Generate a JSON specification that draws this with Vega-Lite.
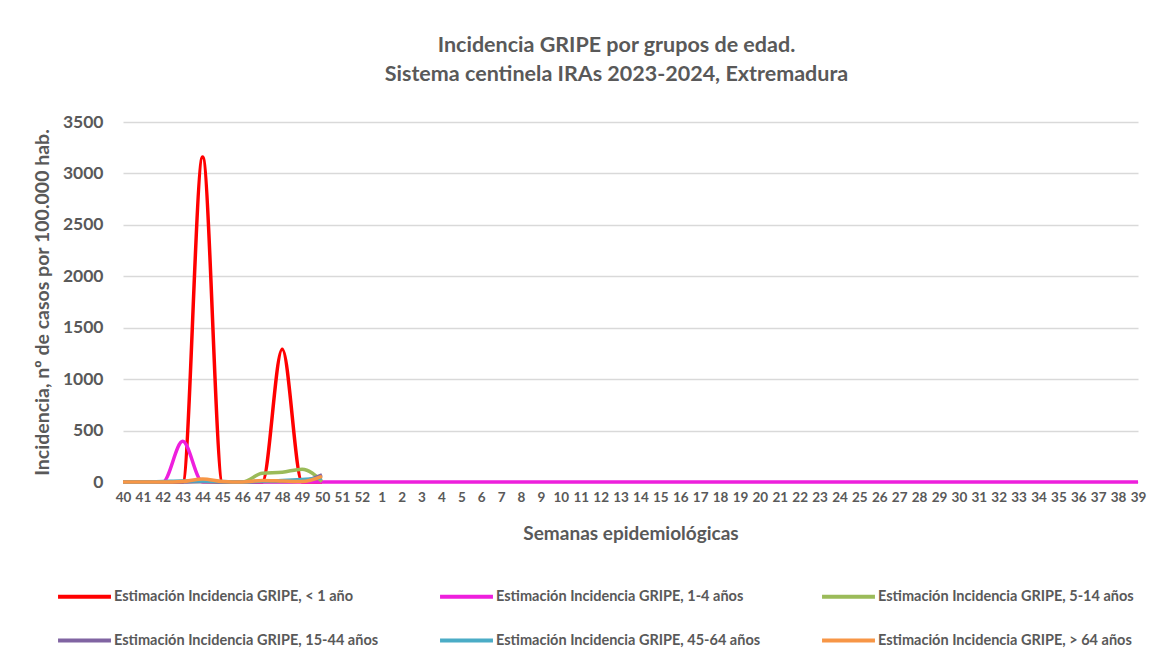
{
  "$schema": "https://vega.github.io/schema/vega-lite/v6.json",
  "width": 1015,
  "height": 360,
  "autosize": {"type": "none"},
  "padding": {"left": 123, "top": 122, "right": 19, "bottom": 183},
  "background": "white",
  "title": {
    "text": ["Incidencia GRIPE por grupos de edad.", "Sistema centinela IRAs 2023-2024, Extremadura"],
    "font": "Lato",
    "fontSize": 21.5,
    "fontWeight": "bold",
    "color": "#595959",
    "lineHeight": 29,
    "anchor": "middle",
    "dx": -14,
    "offset": 28
  },
  "data": {
    "values": [
      {"semana": "40", "< 1 año": 0, "1-4 años": 0, "5-14 años": 0, "15-44 años": 0, "45-64 años": 0, "> 64 años": 0},
      {"semana": "41", "< 1 año": 0, "1-4 años": 0, "5-14 años": 0, "15-44 años": 0, "45-64 años": 0, "> 64 años": 0},
      {"semana": "42", "< 1 año": 0, "1-4 años": 0, "5-14 años": 0, "15-44 años": 0, "45-64 años": 5, "> 64 años": 0},
      {"semana": "43", "< 1 año": 0, "1-4 años": 395, "5-14 años": 5, "15-44 años": 0, "45-64 años": 10, "> 64 años": 5},
      {"semana": "44", "< 1 año": 3160, "1-4 años": 0, "5-14 años": 5, "15-44 años": 5, "45-64 años": 10, "> 64 años": 30},
      {"semana": "45", "< 1 año": 0, "1-4 años": 0, "5-14 años": 0, "15-44 años": 0, "45-64 años": 5, "> 64 años": 5},
      {"semana": "46", "< 1 año": 0, "1-4 años": 0, "5-14 años": 0, "15-44 años": 0, "45-64 años": 0, "> 64 años": 0},
      {"semana": "47", "< 1 año": 0, "1-4 años": 0, "5-14 años": 85, "15-44 años": 5, "45-64 años": 10, "> 64 años": 15},
      {"semana": "48", "< 1 año": 1290, "1-4 años": 0, "5-14 años": 95, "15-44 años": 5, "45-64 años": 15, "> 64 años": 10},
      {"semana": "49", "< 1 año": 0, "1-4 años": 0, "5-14 años": 125, "15-44 años": 10, "45-64 años": 25, "> 64 años": 5},
      {"semana": "50", "< 1 año": 0, "1-4 años": 0, "5-14 años": 5, "15-44 años": 70, "45-64 años": 40, "> 64 años": 55},
      {"semana": "51", "1-4 años": 0},
      {"semana": "52", "1-4 años": 0},
      {"semana": "1", "1-4 años": 0},
      {"semana": "2", "1-4 años": 0},
      {"semana": "3", "1-4 años": 0},
      {"semana": "4", "1-4 años": 0},
      {"semana": "5", "1-4 años": 0},
      {"semana": "6", "1-4 años": 0},
      {"semana": "7", "1-4 años": 0},
      {"semana": "8", "1-4 años": 0},
      {"semana": "9", "1-4 años": 0},
      {"semana": "10", "1-4 años": 0},
      {"semana": "11", "1-4 años": 0},
      {"semana": "12", "1-4 años": 0},
      {"semana": "13", "1-4 años": 0},
      {"semana": "14", "1-4 años": 0},
      {"semana": "15", "1-4 años": 0},
      {"semana": "16", "1-4 años": 0},
      {"semana": "17", "1-4 años": 0},
      {"semana": "18", "1-4 años": 0},
      {"semana": "19", "1-4 años": 0},
      {"semana": "20", "1-4 años": 0},
      {"semana": "21", "1-4 años": 0},
      {"semana": "22", "1-4 años": 0},
      {"semana": "23", "1-4 años": 0},
      {"semana": "24", "1-4 años": 0},
      {"semana": "25", "1-4 años": 0},
      {"semana": "26", "1-4 años": 0},
      {"semana": "27", "1-4 años": 0},
      {"semana": "28", "1-4 años": 0},
      {"semana": "29", "1-4 años": 0},
      {"semana": "30", "1-4 años": 0},
      {"semana": "31", "1-4 años": 0},
      {"semana": "32", "1-4 años": 0},
      {"semana": "33", "1-4 años": 0},
      {"semana": "34", "1-4 años": 0},
      {"semana": "35", "1-4 años": 0},
      {"semana": "36", "1-4 años": 0},
      {"semana": "37", "1-4 años": 0},
      {"semana": "38", "1-4 años": 0},
      {"semana": "39", "1-4 años": 0}
    ]
  },
  "transform": [
    {"fold": ["< 1 año", "1-4 años", "5-14 años", "15-44 años", "45-64 años", "> 64 años"], "as": ["serie", "valor"]},
    {"filter": "isValid(datum.valor)"}
  ],
  "mark": {"type": "line", "interpolate": "monotone", "strokeWidth": 3.5},
  "encoding": {
    "x": {
      "field": "semana",
      "type": "ordinal",
      "sort": ["40","41","42","43","44","45","46","47","48","49","50","51","52","1","2","3","4","5","6","7","8","9","10","11","12","13","14","15","16","17","18","19","20","21","22","23","24","25","26","27","28","29","30","31","32","33","34","35","36","37","38","39"],
      "scale": {"type": "point", "padding": 0},
      "title": "Semanas epidemiológicas",
      "axis": {
        "labelAngle": 0,
        "labelFont": "Lato",
        "labelFontSize": 13.5,
        "labelFontWeight": "bold",
        "labelColor": "#595959",
        "labelPadding": 8,
        "labelOverlap": false,
        "ticks": false,
        "domain": false,
        "grid": false,
        "titleFont": "Lato",
        "titleFontSize": 19,
        "titleFontWeight": "bold",
        "titleColor": "#595959",
        "titlePadding": 21
      }
    },
    "y": {
      "field": "valor",
      "type": "quantitative",
      "scale": {"domain": [0, 3500], "nice": false},
      "title": "Incidencia, nº de casos por 100.000 hab.",
      "axis": {
        "values": [0, 500, 1000, 1500, 2000, 2500, 3000, 3500],
        "format": "d",
        "labelFont": "Lato",
        "labelFontSize": 17.5,
        "labelFontWeight": "bold",
        "labelColor": "#595959",
        "labelPadding": 20,
        "ticks": false,
        "domain": false,
        "gridColor": "#D9D9D9",
        "gridWidth": 1.5,
        "titleFont": "Lato",
        "titleFontSize": 19.5,
        "titleFontWeight": "bold",
        "titleColor": "#595959",
        "titlePadding": 10
      }
    },
    "color": {
      "field": "serie",
      "type": "nominal",
      "scale": {
        "domain": ["< 1 año", "1-4 años", "5-14 años", "15-44 años", "45-64 años", "> 64 años"],
        "range": ["#FF0000", "#EE1FDD", "#9BBB59", "#8064A2", "#4BACC6", "#F79646"]
      },
      "legend": {
        "title": null,
        "orient": "none",
        "legendX": -67,
        "legendY": 446,
        "direction": "horizontal",
        "columns": 3,
        "gridAlign": "all",
        "columnPadding": 53,
        "rowPadding": 7,
        "symbolType": "stroke",
        "symbolSize": 2800,
        "symbolStrokeWidth": 4,
        "labelOffset": 1,
        "labelFont": "Lato",
        "labelFontSize": 14.5,
        "labelFontWeight": "bold",
        "labelColor": "#595959",
        "labelLimit": 400,
        "labelExpr": "'Estimación Incidencia GRIPE, ' + datum.label"
      }
    }
  },
  "config": {
    "view": {"stroke": null}
  }
}
